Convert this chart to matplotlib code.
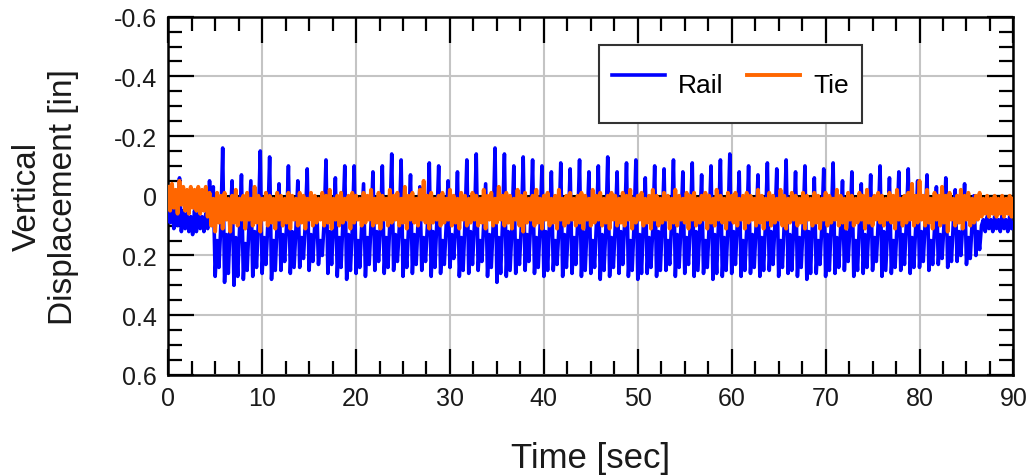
import numpy as np
import matplotlib.pyplot as plt
from matplotlib.ticker import MultipleLocator

plt.rcParams['font.family'] = ['Liberation Sans', 'DejaVu Sans']

dt = 0.2  # sample step [sec]

# rail vertical displacement [in], positive = downward
rail = [
    0.02, 0.09, 0.03, 0.11, 0.04, 0.10, -0.06, 0.12, 0.05, 0.11, 0.06, 0.12, 0.07, 0.13, 0.05, 0.12, 0.06, 0.11, 0.07, 0.12,
    0.06, 0.11, -0.05, 0.08,
    # train passing, one row = 4 axle groups
    -0.03, 0.27, 0.15, 0.24, 0.10, -0.16, 0.29, 0.13, 0.26, 0.09, -0.05, 0.30, 0.14, 0.27, 0.11, -0.07, 0.28, 0.16, 0.25, 0.10,
    -0.05, 0.27, 0.12, 0.24, 0.09, -0.15, 0.26, 0.14, 0.23, 0.10, -0.13, 0.28, 0.15, 0.25, 0.09, -0.04, 0.25, 0.13, 0.22, 0.10,
    -0.10, 0.26, 0.12, 0.24, 0.11, -0.05, 0.24, 0.14, 0.21, 0.09, -0.09, 0.25, 0.13, 0.22, 0.10, 0.02, 0.23, 0.15, 0.20, 0.09,
    -0.12, 0.26, 0.12, 0.23, 0.10, -0.06, 0.27, 0.14, 0.24, 0.09, -0.10, 0.28, 0.13, 0.25, 0.11, -0.10, 0.26, 0.15, 0.24, 0.10,
    -0.04, 0.27, 0.14, 0.23, 0.09, -0.08, 0.25, 0.12, 0.22, 0.10, -0.10, 0.26, 0.14, 0.24, 0.09, -0.14, 0.25, 0.13, 0.22, 0.11,
    -0.12, 0.27, 0.15, 0.24, 0.10, -0.07, 0.26, 0.13, 0.23, 0.09, -0.03, 0.25, 0.14, 0.22, 0.10, -0.11, 0.27, 0.12, 0.24, 0.09,
    -0.10, 0.26, 0.15, 0.23, 0.10, -0.05, 0.24, 0.13, 0.21, 0.11, -0.08, 0.27, 0.14, 0.25, 0.09, -0.12, 0.26, 0.12, 0.23, 0.10,
    -0.14, 0.25, 0.15, 0.22, 0.09, -0.04, 0.27, 0.13, 0.24, 0.10, -0.16, 0.29, 0.14, 0.26, 0.09, -0.14, 0.27, 0.12, 0.25, 0.11,
    -0.10, 0.26, 0.15, 0.23, 0.10, -0.13, 0.25, 0.13, 0.22, 0.09, -0.12, 0.26, 0.14, 0.24, 0.10, -0.10, 0.27, 0.12, 0.25, 0.09,
    -0.08, 0.25, 0.15, 0.23, 0.11, -0.11, 0.27, 0.13, 0.24, 0.10, -0.09, 0.26, 0.14, 0.23, 0.09, -0.12, 0.27, 0.12, 0.25, 0.10,
    -0.08, 0.26, 0.15, 0.24, 0.09, -0.10, 0.28, 0.13, 0.25, 0.11, -0.13, 0.27, 0.14, 0.24, 0.10, -0.08, 0.26, 0.12, 0.23, 0.09,
    -0.11, 0.27, 0.15, 0.25, 0.10, -0.12, 0.28, 0.13, 0.26, 0.09, -0.06, 0.26, 0.14, 0.24, 0.11, -0.10, 0.27, 0.12, 0.25, 0.10,
    -0.09, 0.25, 0.15, 0.23, 0.09, -0.12, 0.27, 0.13, 0.24, 0.10, -0.08, 0.26, 0.14, 0.23, 0.09, -0.11, 0.27, 0.12, 0.25, 0.11,
    -0.07, 0.26, 0.15, 0.24, 0.10, -0.10, 0.28, 0.13, 0.26, 0.09, -0.12, 0.27, 0.14, 0.25, 0.10, -0.14, 0.26, 0.12, 0.23, 0.09,
    -0.08, 0.27, 0.15, 0.25, 0.11, -0.10, 0.26, 0.13, 0.24, 0.10, -0.07, 0.27, 0.14, 0.25, 0.09, -0.11, 0.25, 0.12, 0.23, 0.10,
    -0.09, 0.27, 0.15, 0.24, 0.09, -0.12, 0.26, 0.13, 0.25, 0.11, -0.08, 0.27, 0.14, 0.24, 0.10, -0.10, 0.28, 0.12, 0.26, 0.09,
    -0.06, 0.26, 0.15, 0.23, 0.10, -0.09, 0.27, 0.13, 0.25, 0.09, -0.11, 0.26, 0.14, 0.24, 0.11, -0.05, 0.25, 0.12, 0.22, 0.10,
    -0.08, 0.27, 0.15, 0.25, 0.09, -0.04, 0.26, 0.13, 0.24, 0.10, -0.07, 0.25, 0.14, 0.22, 0.09, -0.10, 0.27, 0.12, 0.25, 0.11,
    -0.06, 0.26, 0.15, 0.24, 0.10, -0.08, 0.25, 0.13, 0.23, 0.09, -0.09, 0.26, 0.14, 0.24, 0.10, -0.05, 0.24, 0.12, 0.22, 0.09,
    -0.07, 0.25, 0.15, 0.23, 0.11, -0.03, 0.23, 0.13, 0.21, 0.10, -0.06, 0.24, 0.14, 0.22, 0.09, -0.02, 0.22, 0.12, 0.20, 0.10,
    -0.04, 0.23, 0.14, 0.21, 0.09, 0.00, 0.20, 0.12, 0.18, 0.10,
    # after the train
    0.08, 0.12, 0.07, 0.11, 0.08, 0.12, 0.07, 0.11, 0.08, 0.12, 0.06, 0.11, 0.08, 0.12, 0.07, 0.11, 0.09,
]

# tie vertical displacement [in]
tie = [
    -0.03, 0.05, -0.04, 0.04, -0.02, 0.06, -0.05, 0.03, -0.03, 0.05, -0.02, 0.06, -0.03, 0.04, -0.02, 0.05, -0.03, 0.06, -0.02, 0.05,
    -0.03, 0.07, -0.01, 0.10, 0.01, 0.12, -0.01, 0.09, 0.00, 0.11, -0.01, 0.08, 0.01, 0.12, 0.00, 0.09, -0.02, 0.10, 0.01, 0.08,
    0.00, 0.11, -0.01, 0.08, 0.01, 0.10, -0.03, 0.09, 0.00, 0.12, 0.01, 0.08, -0.01, 0.10, 0.00, 0.09, 0.01, 0.11, -0.01, 0.08,
    0.00, 0.10, 0.01, 0.09, -0.01, 0.11, 0.00, 0.08, 0.01, 0.10, -0.01, 0.09, 0.00, 0.11, 0.01, 0.08, -0.01, 0.10, 0.00, 0.09,
    0.01, 0.08, -0.01, 0.10, 0.00, 0.09, -0.02, 0.11, 0.01, 0.08, 0.00, 0.10, -0.01, 0.09, 0.01, 0.08, 0.00, 0.11, -0.01, 0.09,
    0.00, 0.08, 0.01, 0.10, -0.01, 0.09, 0.00, 0.08, -0.02, 0.10, 0.01, 0.09, -0.01, 0.11, 0.00, 0.08, 0.01, 0.10, -0.02, 0.09,
    0.00, 0.08, -0.01, 0.10, 0.01, 0.09, -0.03, 0.11, 0.00, 0.08, -0.01, 0.09, 0.01, 0.10, -0.02, 0.08, -0.05, 0.09, 0.00, 0.11,
    -0.01, 0.09, 0.01, 0.08, 0.00, 0.10, -0.01, 0.09, 0.01, 0.08, -0.02, 0.10, 0.00, 0.09, 0.01, 0.11, -0.01, 0.08, 0.00, 0.10,
    0.01, 0.09, -0.01, 0.08, 0.00, 0.10, 0.01, 0.09, -0.02, 0.11, 0.00, 0.08, -0.01, 0.10, 0.01, 0.09, -0.03, 0.08, 0.00, 0.10,
    -0.01, 0.09, 0.00, 0.11, 0.01, 0.08, -0.02, 0.10, 0.00, 0.12, -0.01, 0.09, 0.01, 0.08, 0.00, 0.10, -0.02, 0.09, 0.01, 0.11,
    0.00, 0.08, -0.01, 0.10, 0.01, 0.09, 0.00, 0.11, -0.02, 0.08, 0.01, 0.10, 0.00, 0.09, -0.01, 0.08, 0.01, 0.10, 0.00, 0.09,
    -0.01, 0.11, 0.00, 0.08, 0.01, 0.10, -0.02, 0.09, 0.00, 0.08, -0.01, 0.10, 0.01, 0.09, 0.00, 0.11, -0.01, 0.08, 0.00, 0.10,
    0.01, 0.09, -0.01, 0.10, 0.00, 0.08, -0.02, 0.11, 0.01, 0.09, 0.00, 0.08, -0.01, 0.10, 0.01, 0.09, 0.00, 0.11, -0.02, 0.08,
    0.00, 0.10, 0.01, 0.09, -0.01, 0.08, 0.00, 0.11, 0.01, 0.09, -0.02, 0.10, 0.00, 0.08, 0.01, 0.09, -0.01, 0.11, 0.00, 0.08,
    -0.01, 0.10, 0.01, 0.09, 0.00, 0.08, -0.01, 0.11, 0.00, 0.09, 0.01, 0.10, -0.02, 0.08, 0.00, 0.09, 0.01, 0.11, -0.01, 0.08,
    0.00, 0.09, -0.01, 0.10, 0.01, 0.08, 0.00, 0.11, -0.01, 0.09, 0.00, 0.08, 0.01, 0.10, -0.02, 0.09, 0.00, 0.11, 0.01, 0.08,
    -0.01, 0.10, 0.00, 0.09, 0.01, 0.08, -0.02, 0.10, 0.00, 0.11, 0.01, 0.09, -0.01, 0.08, 0.00, 0.10, 0.01, 0.09, -0.01, 0.11,
    0.00, 0.08, 0.01, 0.10, -0.01, 0.09, 0.00, 0.11, 0.01, 0.08, -0.01, 0.10, 0.00, 0.09, 0.01, 0.08, -0.02, 0.10, 0.00, 0.09,
    0.01, 0.11, -0.01, 0.08, 0.00, 0.10, 0.01, 0.09, -0.01, 0.08, 0.00, 0.11, -0.02, 0.09, 0.01, 0.10, 0.00, 0.08, -0.01, 0.09,
    0.00, 0.10, 0.01, 0.08, -0.01, 0.09, 0.00, 0.11, -0.02, 0.08, 0.01, 0.10, 0.00, 0.09, -0.01, 0.08, -0.04, 0.10, 0.00, 0.09,
    -0.05, 0.08, 0.00, 0.10, -0.02, 0.09, 0.01, 0.11, -0.01, 0.08, 0.00, 0.10, -0.03, 0.09, 0.00, 0.12, -0.01, 0.08, 0.01, 0.10,
    0.00, 0.09, -0.02, 0.11, 0.00, 0.08, -0.01, 0.10, 0.01, 0.09, 0.00, 0.08, -0.01, 0.07, 0.01, 0.06, 0.00, 0.07, 0.01, 0.06,
    0.00, 0.07, 0.01, 0.06, 0.00, 0.07, 0.01, 0.06, 0.00, 0.07, 0.01,
]

xticks = [0, 10, 20, 30, 40, 50, 60, 70, 80, 90]
yticks = [-0.6, -0.4, -0.2, 0, 0.2, 0.4, 0.6]
ytick_labels = ['-0.6', '-0.4', '-0.2', '0', '0.2', '0.4', '0.6']

t_rail = np.arange(len(rail)) * dt
t_tie = np.arange(len(tie)) * dt

fig = plt.figure(figsize=(10.32, 4.77), dpi=100)
ax = fig.add_axes([0.163, 0.212, 0.819, 0.751])

ax.plot(t_rail, rail, color='#0000ff', lw=2.6, label='Rail', zorder=3)
ax.plot(t_tie, tie, color='#ff6600', lw=2.8, label='Tie', zorder=4)
ax.axhline(0, color='black', lw=2.2, zorder=2)

ax.set_xlim(0, 90)
ax.set_ylim(0.6, -0.6)
ax.set_xticks(xticks)
ax.set_yticks(yticks)
ax.set_yticklabels(ytick_labels)
ax.xaxis.set_minor_locator(MultipleLocator(2.5))
ax.yaxis.set_minor_locator(MultipleLocator(0.05))

ax.grid(True, which='major', color='#c4c4c4', lw=1.5, zorder=0)
ax.tick_params(which='both', direction='in', top=True, right=True, width=1.6, colors='black')
ax.tick_params(which='major', length=19, pad=8, labelsize=18, labelcolor='#1a1a1a')
ax.tick_params(which='minor', length=10)
for s in ax.spines.values():
    s.set_linewidth(1.8)

ax.set_xlabel('Time [sec]', fontsize=25, labelpad=22, color='#1a1a1a')
ax.set_ylabel('Vertical\nDisplacement [in]', fontsize=24, labelpad=25, color='#1a1a1a')

leg = ax.legend(loc='upper right', bbox_to_anchor=(0.821, 0.92), ncol=2, fontsize=19,
                frameon=True, fancybox=False, framealpha=1, edgecolor='#333333',
                borderpad=0.5, handlelength=2.0, handleheight=2.6, handletextpad=0.5,
                columnspacing=0.9, borderaxespad=0)
leg.get_frame().set_linewidth(1.5)

fig.savefig('out.png', dpi=100)
